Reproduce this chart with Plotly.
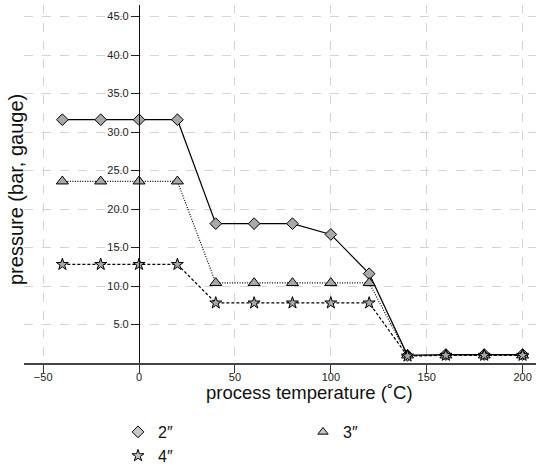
import plotly.graph_objects as go

temps = [-40, -20, 0, 20, 40, 60, 80, 100, 120, 140, 160, 180, 200]
p_2in = [31.6, 31.6, 31.6, 31.6, 18.1, 18.1, 18.1, 16.7, 11.6, 1.0, 1.1, 1.1, 1.1]
p_3in = [23.6, 23.6, 23.6, 23.6, 10.4, 10.4, 10.4, 10.4, 10.4, 1.0, 1.0, 1.0, 1.0]
p_4in = [12.8, 12.8, 12.8, 12.8, 7.8, 7.8, 7.8, 7.8, 7.8, 0.9, 1.0, 1.0, 1.0]
series_names = ["2\u2033", "3\u2033", "4\u2033"]
y_ticks = [5, 10, 15, 20, 25, 30, 35, 40, 45]
x_ticks = [-50, 0, 50, 100, 150, 200]

XMIN, XMAX = -60, 207
YMIN, YMAX = 0, 46.5

W, H = 536, 464
L, R, T, B = 24, 0, 5, 101
PW, PH = W - L - R, H - T - B

fill = "#a8a8a8"
fig = go.Figure()
specs = [
    (p_2in, series_names[0], "diamond", "solid", 9, 9),
    (p_3in, series_names[1], "triangle-up", "1px,1.5px", 10.5, 9),
    (p_4in, series_names[2], "star", "3px,2px", 9, 9),
]
for vals, name, sym, dash, size, lsize in specs:
    fig.add_trace(go.Scatter(
        x=temps, y=vals, name=name, mode="lines+markers", showlegend=False,
        line=dict(color="black", width=1.2, dash=dash),
        marker=dict(symbol=sym, size=size, color=fill,
                    line=dict(color="black", width=1)),
    ))
for vals, name, sym, dash, size, lsize in specs:
    fig.add_trace(go.Scatter(
        x=[None], y=[None], name=name, mode="markers", showlegend=True,
        marker=dict(symbol=sym, size=lsize, color="#c8c8c8",
                    line=dict(color="black", width=1)),
    ))

XT_FONT = dict(family="Liberation Sans, Arial, sans-serif", size=18.5, color="#111")
YT_FONT = dict(family="Liberation Sans, Arial, sans-serif", size=20, color="#111")

fig.update_layout(
    template="none",
    width=W, height=H,
    margin=dict(l=L, r=R, t=T, b=B, autoexpand=False),
    plot_bgcolor="white", paper_bgcolor="white",
    font=dict(family="Liberation Sans, Arial, sans-serif", size=11, color="#222"),
    showlegend=True,
    legend=dict(
        orientation="h", x=(118 - L) / PW, xanchor="left",
        y=-(415 - (H - B)) / PH, yanchor="top",
        entrywidth=140, entrywidthmode="pixels", tracegroupgap=0,
        itemwidth=30,
        font=dict(family="Liberation Sans, Arial, sans-serif", size=16, color="#111"),
        bgcolor="rgba(0,0,0,0)",
    ),
    xaxis=dict(
        range=[XMIN, XMAX], tickvals=x_ticks, ticks="outside", ticklen=8,
        ticklabelstandoff=-5,
        tickcolor="#333", showline=True, linecolor="#444", linewidth=1.5,
        showgrid=True, gridcolor="#d4d4d4", griddash="dash", gridwidth=1,
        zeroline=False, automargin=False, tickfont=dict(size=11, color="#222"),
    ),
    yaxis=dict(
        range=[YMIN, YMAX], tickvals=y_ticks, tickformat=".1f",
        ticks="outside", ticklen=8, tickcolor="#222",
        anchor="free", position=(0 - XMIN) / (XMAX - XMIN),
        showline=True, linecolor="#111", linewidth=1.3,
        showgrid=True, gridcolor="#d4d4d4", griddash="dash", gridwidth=1,
        zeroline=False, automargin=False, tickfont=dict(size=11, color="#222"),
    ),
    annotations=[
        dict(text="process temperature (\u02daC)", xref="paper", yref="paper",
             x=(309 - L) / PW, y=-(392 - (H - B)) / PH,
             xanchor="center", yanchor="middle", showarrow=False, font=XT_FONT),
        dict(text="pressure (bar, gauge)", textangle=-90, xref="paper", yref="paper",
             x=(16 - L) / PW, y=(H - B - 190) / PH,
             xanchor="center", yanchor="middle", showarrow=False, font=YT_FONT),
    ],
)

fig.write_html("out.html", config={"displayModeBar": False},
               post_script="document.body.style.margin='0';document.body.style.overflow='hidden';")
